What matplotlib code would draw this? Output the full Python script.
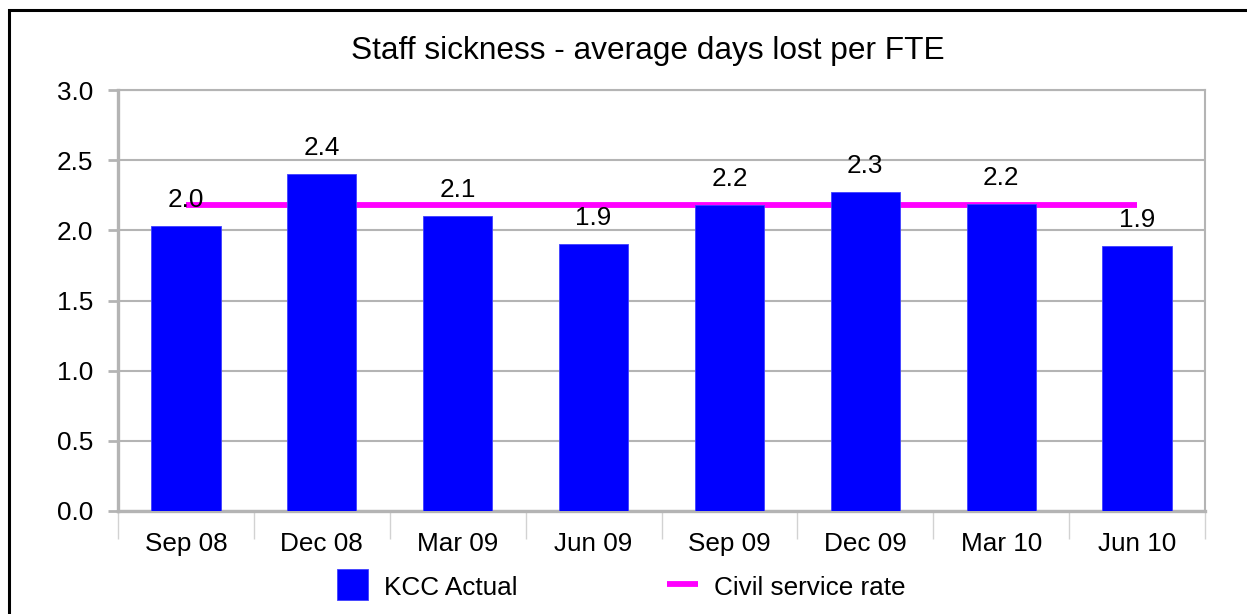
import matplotlib
matplotlib.use('Agg')
from matplotlib import pyplot as plt
from matplotlib.patches import Rectangle
from matplotlib.lines import Line2D
import numpy as np

# data
quarters = ['Sep 08', 'Dec 08', 'Mar 09', 'Jun 09', 'Sep 09', 'Dec 09', 'Mar 10', 'Jun 10']
kcc_actual = [2.03, 2.40, 2.10, 1.90, 2.18, 2.27, 2.19, 1.89]
kcc_labels = ['2.0', '2.4', '2.1', '1.9', '2.2', '2.3', '2.2', '1.9']
civil_rate = [2.18] * len(quarters)
y_ticks = [0.0, 0.5, 1.0, 1.5, 2.0, 2.5, 3.0]

plt.rcParams['font.family'] = ['Liberation Sans', 'DejaVu Sans']

W, H = 1247, 614
fig = plt.figure(figsize=(W / 100, H / 100), dpi=100)
ax = fig.add_axes([118 / W, 1 - 511 / H, (1205 - 118) / W, (511 - 90) / H])

grey = '#b4b4b4'
x = np.arange(len(quarters))

# bars sit on top of the rate line, as in the original
ax.plot(x, civil_rate, color='#ff00ff', linewidth=4.2, zorder=2,
        solid_capstyle='butt')
ax.bar(x, kcc_actual, width=0.51, color='#0000ff', edgecolor='#4040ff',
       linewidth=0.6, zorder=3)

for xi, val, lab in zip(x, kcc_actual, kcc_labels):
    ax.annotate(lab, (xi, val), xytext=(0, 13.7), textcoords='offset points',
                ha='center', va='baseline', fontsize=18.8, zorder=5)

ax.set_xlim(-0.5, len(quarters) - 0.5)
ax.set_ylim(0, 3.0)
ax.set_yticks(y_ticks)
ax.set_yticklabels(['%.1f' % t for t in y_ticks])
ax.yaxis.grid(True, color=grey, linewidth=1.5, zorder=0)
ax.set_axisbelow(True)

ax.set_xticks(x)
ax.set_xticklabels(quarters)
ax.set_xticks(np.arange(len(quarters) + 1) - 0.5, minor=True)
ax.tick_params(axis='x', which='major', length=0, pad=15, labelsize=18.8)
ax.tick_params(axis='x', which='minor', length=20, width=1.0, color='#d2d2d2')
ax.tick_params(axis='y', length=7, width=2.0, color=grey, pad=10.8,
               labelsize=18.8)

for side in ['left', 'bottom']:
    ax.spines[side].set_color(grey)
    ax.spines[side].set_linewidth(2.4)
for side in ['right', 'top']:
    ax.spines[side].set_color(grey)
    ax.spines[side].set_linewidth(1.5)

fig.text(648 / W, 1 - 59 / H, 'Staff sickness - average days lost per FTE',
         ha='center', va='baseline', fontsize=22.8)

# legend drawn by hand to match the original placement
fig.add_artist(Rectangle((337 / W, 1 - 600 / H), 31 / W, 31 / H,
                         transform=fig.transFigure, facecolor='#0000ff',
                         edgecolor='#4040ff', linewidth=0.6))
fig.text(384 / W, 1 - 595 / H, 'KCC Actual', ha='left', va='baseline',
         fontsize=18.8)
fig.add_artist(Line2D([667 / W, 698 / W], [1 - 584 / H, 1 - 584 / H],
                      transform=fig.transFigure, color='#ff00ff',
                      linewidth=4.2, solid_capstyle='butt'))
fig.text(714 / W, 1 - 595 / H, 'Civil service rate', ha='left',
         va='baseline', fontsize=18.8)

# outer chart frame (runs off the right and bottom of the picture)
fig.add_artist(Rectangle((9 / W, -0.2), 1.3, 1.2 - 10.5 / H,
                         transform=fig.transFigure, fill=False,
                         edgecolor='black', linewidth=2.2))

fig.savefig('out.png', dpi=100)
